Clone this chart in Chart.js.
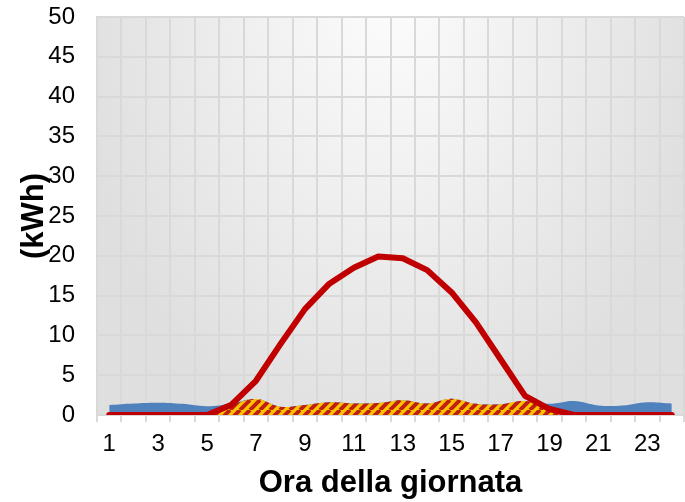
<!DOCTYPE html>
<html>
<head>
<meta charset="utf-8">
<script src="https://cdn.jsdelivr.net/npm/chart.js@4.4.0/dist/chart.umd.min.js"></script>
<style>
  html, body { margin: 0; padding: 0; background: #fff; }
</style>
</head>
<body>
<canvas id="myChart" width="685" height="502"></canvas>
<script>
// ore del giorno
const ore = ['1','2','3','4','5','6','7','8','9','10','11','12','13','14','15','16','17','18','19','20','21','22','23','24']

// kWh
const consumo = [1.25, 1.45, 1.55, 1.4, 1.1, 1.45, 2.0, 1.05, 1.25, 1.6, 1.45, 1.5, 1.85, 1.45, 2.05, 1.4, 1.35, 1.75, 1.4, 1.75, 1.2, 1.2, 1.6, 1.45]
const autoconsumo = [0, 0, 0, 0, 0, 1.2, 2.0, 1.05, 1.25, 1.6, 1.45, 1.5, 1.85, 1.45, 2.05, 1.4, 1.35, 1.75, 0.75, 0, 0, 0, 0, 0]
const produzione = [0, 0, 0, 0, 0, 1.3, 4.3, 8.9, 13.3, 16.5, 18.5, 19.9, 19.7, 18.2, 15.4, 11.6, 7.0, 2.4, 0.75, 0, 0, 0, 0, 0]

const yMax = 50
const yStep = 5

const fontFam = "'Liberation Sans', Arial, sans-serif"
const gridCol = '#d9d9d9'

// righe oblique giallo/rosso per l'autoconsumo
function stripes() {
  const c = document.createElement('canvas')
  c.width = 10; c.height = 10
  const g = c.getContext('2d')
  g.fillStyle = '#ffc400'
  g.fillRect(0, 0, 10, 10)
  g.strokeStyle = '#c0200f'
  g.lineWidth = 4
  g.beginPath()
  for (let k = -10; k <= 20; k += 10) {
    g.moveTo(k, 10)
    g.lineTo(k + 10, 0)
  }
  g.stroke()
  return g.createPattern(c, 'repeat')
}

// sfondo grigio sfumato dell'area del grafico
const plotBg = {
  id: 'plotBg',
  beforeDraw(chart) {
    const { ctx, chartArea: a } = chart
    const cx = (a.left + a.right) / 2
    ctx.save()
    ctx.beginPath()
    ctx.rect(a.left, a.top, a.right - a.left, a.bottom - a.top)
    ctx.clip()
    ctx.translate(cx, a.top - 30)
    ctx.scale(1, 1.5)
    const g = ctx.createRadialGradient(0, 0, 0, 0, 0, 320)
    g.addColorStop(0, '#fdfdfd')
    g.addColorStop(1, '#dfdfdf')
    ctx.fillStyle = g
    ctx.fillRect(-400, -100, 800, 400)
    ctx.restore()
  }
}

const myChart = new Chart(document.getElementById('myChart'), {
  type: 'line',
  data: {
    labels: ore,
    datasets: [
      {
        label: 'Produzione FV',
        data: produzione,
        borderColor: '#c00000',
        borderWidth: 6,
        borderCapStyle: 'round',
        borderJoinStyle: 'round',
        fill: false,
        tension: 0,
        order: 1
      },
      {
        label: 'Autoconsumo',
        data: autoconsumo,
        backgroundColor: stripes(),
        borderWidth: 0,
        fill: 'origin',
        tension: 0.4,
        order: 2
      },
      {
        label: 'Consumo',
        data: consumo,
        backgroundColor: '#4f81bd',
        borderWidth: 0,
        fill: 'origin',
        tension: 0.4,
        order: 3
      }
    ]
  },
  options: {
    responsive: false,
    animation: false,
    layout: { padding: { top: 0, right: 1, left: 0, bottom: 0 } },
    elements: { point: { radius: 0 } },
    plugins: {
      legend: { display: false },
      tooltip: { enabled: false }
    },
    scales: {
      x: {
        offset: true,
        grid: { offset: true, color: gridCol, lineWidth: 2, tickLength: 7, tickColor: gridCol },
        border: { color: gridCol, width: 2 },
        ticks: {
          autoSkip: false,
          maxRotation: 0,
          padding: 8,
          color: '#000',
          font: { family: fontFam, size: 24 },
          callback(v, i) { return i % 2 === 0 ? this.getLabelForValue(v) : '' }
        },
        title: {
          display: true,
          text: 'Ora della giornata',
          color: '#000',
          font: { family: fontFam, size: 31, weight: 'bold' },
          padding: { top: 0, bottom: 0 }
        },
        afterFit(s) { s.height = 87 }
      },
      y: {
        min: 0,
        max: yMax,
        grid: { color: gridCol, lineWidth: 2, drawTicks: false },
        border: { color: gridCol, width: 2 },
        ticks: {
          stepSize: yStep,
          padding: 22,
          color: '#000',
          font: { family: fontFam, size: 24 }
        },
        title: {
          display: true,
          text: '(kWh)',
          color: '#000',
          font: { family: fontFam, size: 31, weight: 'bold' },
          padding: { top: 16, bottom: 0 }
        },
        afterFit(s) {
          s.width = 97
          s.paddingTop = 17
          s.paddingBottom = 0
        }
      }
    }
  },
  plugins: [plotBg]
})
</script>
</body>
</html>
